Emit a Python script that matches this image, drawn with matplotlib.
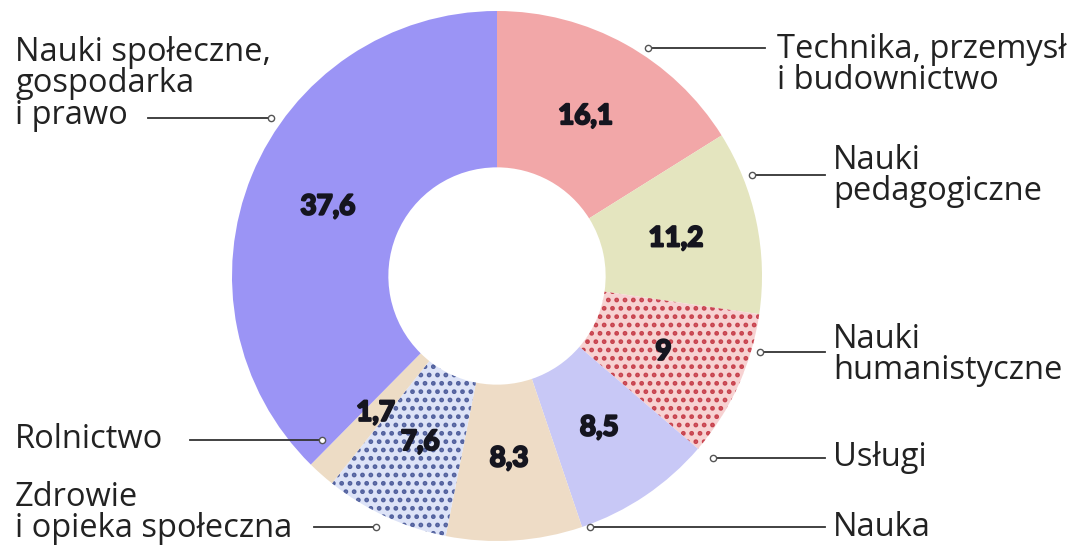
import matplotlib.pyplot as plt
import matplotlib.patheffects as pe
import numpy as np

# data (shares in %)
categories = ["Technika, przemysł\ni budownictwo", "Nauki\npedagogiczne",
              "Nauki\nhumanistyczne", "Usługi", "Nauka",
              "Zdrowie\ni opieka społeczna", "Rolnictwo",
              "Nauki społeczne,\ngospodarka\ni prawo"]
values = [16.1, 11.2, 9, 8.5, 8.3, 7.6, 1.7, 37.6]
value_labels = ["16,1", "11,2", "9", "8,5", "8,3", "7,6", "1,7", "37,6"]

colors = ["#f2a7a8", "#e4e5bf", "#f7d2d2", "#c8c8f6", "#eedcc6",
          "#dde3f7", "#eddcc5", "#9b94f5"]
hatch_colors = [None, None, "#c8434e", None, None, "#52619e", None, None]

W, H = 1079, 549
cx, cy, R = 497, 273, 265
hole = 0.41

# label placement in image pixels: text x, text y (block centre),
# leader line from xa to xb at height yl (small circle at xb)
label_pos = [
    (777, 65, 765, 648, 48),
    (833, 176, 825, 752, 175),
    (833, 355, 825, 760, 352),
    (833, 458, 825, 713, 458),
    (833, 527, 825, 590, 527),
    (15, 513, 314, 376, 527),
    (15, 440, 190, 322, 440),
    (15, 84, 148, 271, 118),
]

plt.rcParams["hatch.linewidth"] = 2.2

fig = plt.figure(figsize=(W / 100, H / 100), dpi=100)
ax = fig.add_axes([0, 0, 1, 1])

wedges, _ = ax.pie(values, colors=colors, startangle=90, counterclock=False,
                   center=(cx, cy), radius=R,
                   wedgeprops=dict(width=R * (1 - hole), linewidth=0))

# dotted fills for two of the segments
for w, hc in zip(wedges, hatch_colors):
    if hc:
        w.set_hatch("..")
        w.set_edgecolor(hc)
        w.set_linewidth(0)

# values inside the ring (extra stroke to get the heavy look)
heavy = [pe.withStroke(linewidth=1.6, foreground="#15151f")]
for w, lab in zip(wedges, value_labels):
    ang = np.deg2rad((w.theta1 + w.theta2) / 2)
    r = R * 0.69
    ax.text(cx + r * np.cos(ang), cy + r * np.sin(ang), lab,
            ha="center", va="center", fontsize=20, fontweight="bold",
            family="Lato", color="#15151f", path_effects=heavy)

# category names with leader lines
for cat, (tx, ty, xa, xb, yl) in zip(categories, label_pos):
    ax.text(tx, H - ty, cat, ha="left", va="center", fontsize=23.5,
            family="Open Sans", color="#222222", linespacing=0.93)
    ax.plot([xa, xb], [H - yl, H - yl], color="#333333", lw=1.3)
    ax.plot([xb], [H - yl], marker="o", ms=4.5, mfc="white",
            mec="#555555", mew=1)

ax.set_xlim(0, W)
ax.set_ylim(0, H)
ax.axis("off")

fig.savefig("out.png", dpi=100, facecolor="white")
